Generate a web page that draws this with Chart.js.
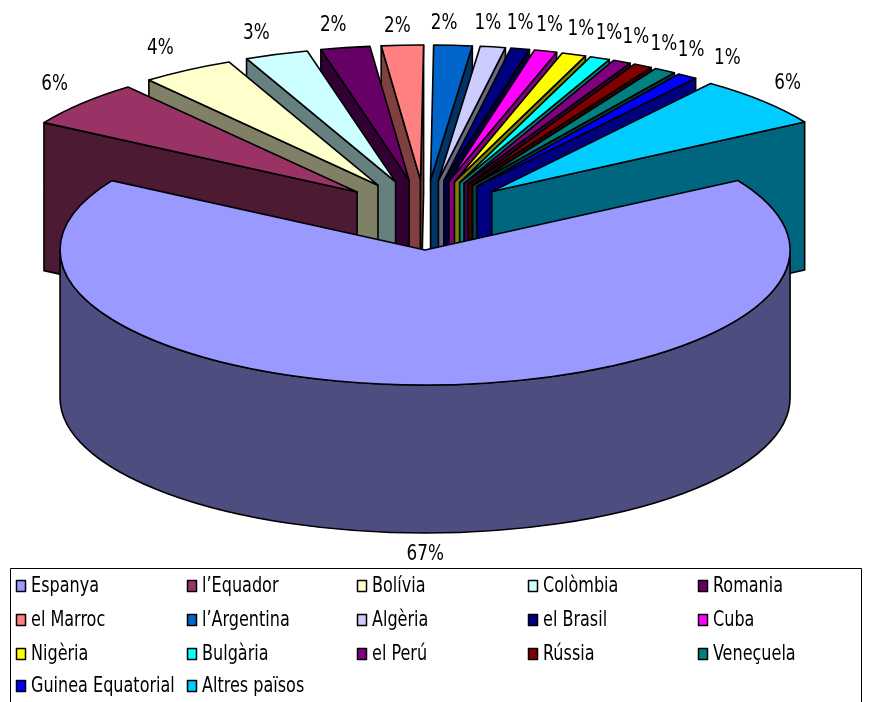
<!DOCTYPE html>
<html><head><meta charset="utf-8">
<style>html,body{margin:0;padding:0;background:#fff;overflow:hidden}canvas{display:block}</style>
<script src="https://cdn.jsdelivr.net/npm/chart.js@4"></script>
</head><body>
<canvas id="c" width="869" height="702"></canvas>
<script>
const countries = ["Espanya","l\u2019Equador","Bol\u00edvia","Col\u00f2mbia","Romania","el Marroc","l\u2019Argentina","Alg\u00e8ria","el Brasil","Cuba","Nig\u00e8ria","Bulg\u00e0ria","el Per\u00fa","R\u00fassia","Vene\u00e7uela","Guinea Equatorial","Altres pa\u00efsos"];
const shares = [67.1,5.6,4.1,2.8,2.17,1.85,1.69,1.11,0.83,1.0,1.07,0.88,0.8,0.84,0.96,0.9,6.15];
const sliceColors = ["#9999FF","#993366","#FFFFCC","#CCFFFF","#660066","#FF8080","#0066CC","#CCCCFF","#000080","#FF00FF","#FFFF00","#00FFFF","#800080","#800000","#008080","#0000FF","#00CCFF"];
const pctLabels = shares.map(v => Math.round(v) + "%");

// Layout of the drawing (not data)
const view = {rx:365, ry:135, depth:148, explodeX:90, explodeY:35};
const labelDX = [0,-27,-27,-20,-12,-5,-9,-5,0,4,7,9,14,21,26,40,25];
const labelDY = [21,-19,-22,-21,-22,-19,-22,-24,-25,-26,-25,-25,-24,-21,-20,-18,-18];
const legendBox = {x:10.5,y:568.5,w:851,rowY:[586,620,654,686],colX:[16,187,357,528,698]};
const FONT = '"DejaVu Sans Condensed","DejaVu Sans"';

function shade(hex){
  const n=parseInt(hex.slice(1),16);
  const f=c=>Math.round(c*0.5);
  return `rgb(${f(n>>16&255)},${f(n>>8&255)},${f(n&255)})`;
}
function squeezedText(ctx,text,x,y,sx){
  ctx.save();ctx.translate(x,y);ctx.scale(sx,1);ctx.fillText(text,0,0);ctx.restore();
}
const pie3d = {
  id:'pie3d',
  beforeDatasetsDraw(chart){
    const ctx=chart.ctx, arcs=chart.getDatasetMeta(0).data;
    const k=view.ry/view.rx, D=view.depth;
    const order=arcs.map((a,i)=>i).sort((p,q)=>{
      const m=i=>Math.sin((arcs[i].startAngle+arcs[i].endAngle)/2);
      return m(p)-m(q);
    });
    ctx.lineJoin='round'; ctx.lineWidth=1.6; ctx.strokeStyle='#000';
    for(const i of order){
      const a=arcs[i], mid=(a.startAngle+a.endAngle)/2, R=a.outerRadius;
      const ax=a.x+view.explodeX*Math.cos(mid), ay=a.y+view.explodeY*Math.sin(mid);
      const ptOn=t=>[ax+R*Math.cos(t), ay+R*k*Math.sin(t)];
      const inner=[ax+R/2*Math.cos(mid), ay+R*k/2*Math.sin(mid)];
      ctx.fillStyle=shade(sliceColors[i]);
      for(const t of [a.startAngle,a.endAngle]){
        const p=ptOn(t), dx=p[0]-ax, dy=p[1]-ay;
        const down=dx*D, side=dx*(inner[1]-ay)-dy*(inner[0]-ax);
        if(down*side<0){
          ctx.beginPath();ctx.moveTo(ax,ay);ctx.lineTo(p[0],p[1]);ctx.lineTo(p[0],p[1]+D);ctx.lineTo(ax,ay+D);ctx.closePath();ctx.fill();ctx.stroke();
        }
      }
      const lo=Math.max(a.startAngle,0), hi=Math.min(a.endAngle,Math.PI);
      if(hi>lo){
        ctx.beginPath();
        ctx.ellipse(ax,ay,R,R*k,0,lo,hi,false);
        ctx.ellipse(ax,ay+D,R,R*k,0,hi,lo,true);
        ctx.closePath();ctx.fill();ctx.stroke();
      }
      // top face: the library's own arc element, projected
      ctx.save();
      ctx.translate(ax,ay);ctx.scale(1,k);ctx.translate(-a.x,-a.y);
      a.draw(ctx);
      ctx.restore();
      ctx.beginPath();ctx.moveTo(ax,ay);
      ctx.ellipse(ax,ay,R,R*k,0,a.startAngle,a.endAngle,false);
      ctx.closePath();ctx.stroke();
    }
    // percentage labels
    ctx.fillStyle='#000';ctx.font='22px '+FONT;ctx.textAlign='center';ctx.textBaseline='middle';
    arcs.forEach((a,i)=>{
      const mid=(a.startAngle+a.endAngle)/2, s=Math.sin(mid);
      const x=a.x+(view.explodeX+a.outerRadius)*Math.cos(mid)+labelDX[i];
      const y=a.y+(view.explodeY+view.ry)*s+(s>0?D:0)+labelDY[i];
      squeezedText(ctx,pctLabels[i],x,y,0.85);
    });
    // legend
    const L=legendBox;
    ctx.lineWidth=1;ctx.strokeStyle='#000';
    ctx.beginPath();ctx.moveTo(L.x,702);ctx.lineTo(L.x,L.y);ctx.lineTo(L.x+L.w,L.y);ctx.lineTo(L.x+L.w,702);ctx.stroke();
    ctx.font='20.5px '+FONT;ctx.textAlign='left';
    countries.forEach((name,i)=>{
      const cx=L.colX[i%5], cy=L.rowY[Math.floor(i/5)];
      ctx.fillStyle=sliceColors[i];
      ctx.fillRect(cx+.5,cy-5.5,9,11);
      ctx.lineWidth=1.5;ctx.strokeRect(cx+.5,cy-5.5,9,11);
      ctx.fillStyle='#000';
      squeezedText(ctx,name,cx+15,cy+1,0.87);
    });
    return false;
  }
};
new Chart(document.getElementById('c'),{
  type:'pie',
  data:{labels:countries,datasets:[{data:shares,backgroundColor:sliceColors,borderWidth:0}]},
  options:{
    responsive:false,animation:false,
    rotation:59,radius:view.rx,
    layout:{padding:{right:19,bottom:272}},
    plugins:{legend:{display:false},tooltip:{enabled:false}}
  },
  plugins:[pie3d]
});
</script>
</body></html>
